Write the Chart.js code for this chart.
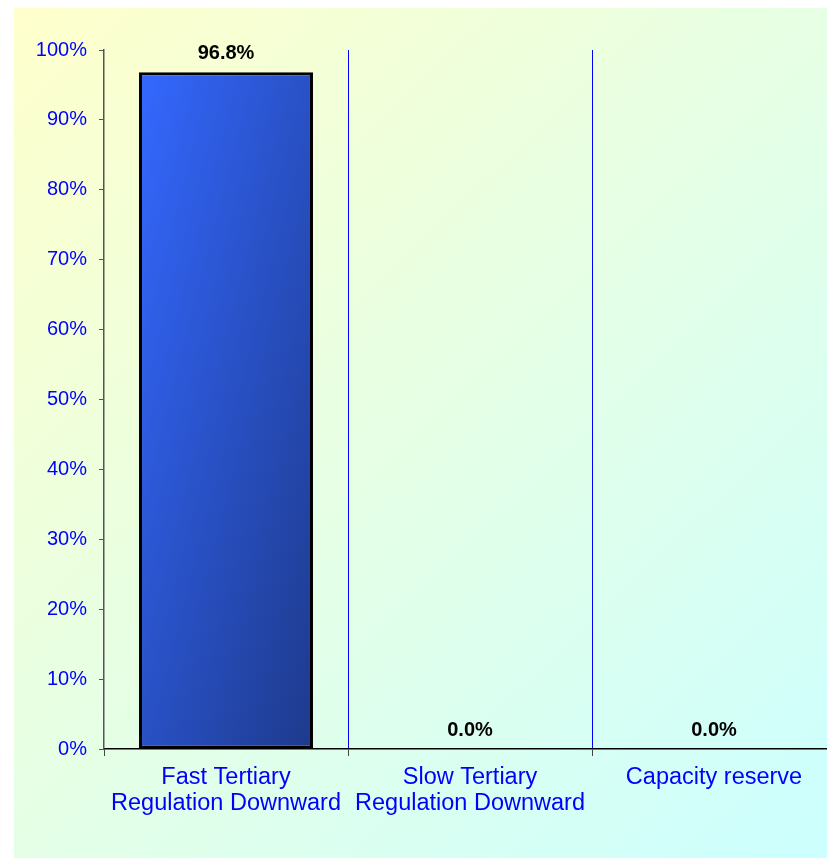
<!DOCTYPE html>
<html>
<head>
<meta charset="utf-8">
<script src="https://cdn.jsdelivr.net/npm/chart.js@4"></script>
<style>
  html, body { margin: 0; padding: 0; background: #fff; overflow: hidden; }
  #wrap { position: absolute; left: 0; top: 0; width: 827px; height: 858px; overflow: hidden; }
  canvas { position: absolute; left: 0; top: 0; }
</style>
</head>
<body>
<div id="wrap"><canvas id="chart" width="840" height="858"></canvas></div>
<script>
// chart data
const categories = [
    ["Fast Tertiary", "Regulation Downward"],
    ["Slow Tertiary", "Regulation Downward"],
    "Capacity reserve"
];
const shares = [96.8, 0.0, 0.0];
const yTicks = [0, 10, 20, 30, 40, 50, 60, 70, 80, 90, 100];

const BLUE = "#0000FF";

// page background (yellow -> cyan)
const backdrop = {
    id: "backdrop",
    beforeDraw(chart) {
        const c = chart.ctx;
        const g = c.createLinearGradient(14, 8, 827, 858);
        g.addColorStop(0, "#FFFFCC");
        g.addColorStop(1, "#CCFFFF");
        c.save();
        c.fillStyle = g;
        c.fillRect(14, 8, chart.width - 14, chart.height - 8);
        c.restore();
    }
};

// value labels above each bar
const valueLabels = {
    id: "valueLabels",
    afterDatasetsDraw(chart) {
        const c = chart.ctx;
        const meta = chart.getDatasetMeta(0);
        c.save();
        c.font = "bold 20px 'Liberation Sans', Arial, sans-serif";
        c.fillStyle = "#000";
        c.textAlign = "center";
        c.textBaseline = "alphabetic";
        meta.data.forEach((bar, i) => {
            c.fillText(shares[i].toFixed(1) + "%", bar.x, bar.y - 13);
        });
        c.restore();
    }
};

// diagonal shading: light top-left, dark bottom-right
function barFill(ctx) {
    const chart = ctx.chart;
    if (!chart.chartArea) return "#3366FF";
    const x = chart.scales.x.getPixelForValue(ctx.dataIndex);
    const yTop = chart.scales.y.getPixelForValue(shares[ctx.dataIndex]);
    const w = 174, h = chart.chartArea.bottom - yTop;
    const len = Math.hypot(w, h) || 1;
    const d = (2 * w * h) / len;
    const x0 = x - w / 2;
    const g = chart.ctx.createLinearGradient(x0, yTop, x0 + d * h / len, yTop + d * w / len);
    g.addColorStop(0, "#3468FF");
    g.addColorStop(1, "#1E3A8C");
    return g;
}

new Chart(document.getElementById("chart"), {
    type: "bar",
    data: {
        labels: categories,
        datasets: [{
            data: shares,
            backgroundColor: barFill,
            borderColor: "#000",
            borderWidth: 3,
            borderSkipped: false,
            categoryPercentage: 1,
            barPercentage: 0.713
        }]
    },
    options: {
        responsive: false,
        animation: false,
        layout: { padding: { left: 0, right: 4, top: 50, bottom: 0 } },
        plugins: {
            legend: { display: false },
            tooltip: { enabled: false }
        },
        scales: {
            x: {
                afterFit: s => { s.height = 109; },
                grid: {
                    offset: true,
                    color: c => c.index === 0 ? "rgba(0,0,0,0)" : BLUE,
                    tickColor: "#444",
                    tickLength: 7,
                    lineWidth: 1
                },
                border: { color: "#000", width: 1.5 },
                ticks: {
                    color: BLUE,
                    padding: 9,
                    maxRotation: 0,
                    autoSkip: false,
                    font: { family: "'Liberation Sans', Arial, sans-serif", size: 23.5, lineHeight: 1.1 }
                }
            },
            y: {
                min: 0,
                max: 100,
                afterFit: s => { s.width = 104; },
                afterBuildTicks: s => { s.ticks = yTicks.map(v => ({ value: v })); },
                grid: {
                    drawOnChartArea: false,
                    color: "#555",
                    tickLength: 5
                },
                border: { color: "#555", width: 1.5 },
                ticks: {
                    color: BLUE,
                    padding: 12,
                    callback: v => v + "%",
                    font: { family: "'Liberation Sans', Arial, sans-serif", size: 20 }
                }
            }
        }
    },
    plugins: [backdrop, valueLabels]
});
</script>
</body>
</html>
